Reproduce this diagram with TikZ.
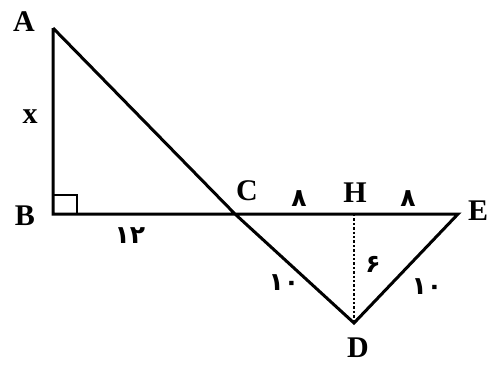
\documentclass[tikz,border=0pt]{standalone}
\usepackage{fontspec}
\setmainfont{Liberation Serif}
\newfontfamily\arabicfont[Script=Arabic]{DejaVu Sans Bold}
\begin{document}
\begin{tikzpicture}[x=1pt,y=-1pt,
  seg/.style={line width=3pt, line join=miter},
  lbl/.style={font=\fontsize{30}{30}\selectfont\bfseries, inner sep=0pt},
  num/.style={font=\arabicfont\fontsize{25}{25}\selectfont, inner sep=0pt}]
\useasboundingbox (0,0) rectangle (489,365);
\coordinate (A) at (53,28);
\coordinate (B) at (53,214);
\coordinate (C) at (235,214);
\coordinate (H) at (354,214);
\coordinate (E) at (458,214);
\coordinate (D) at (354,323);
\draw[seg] (A) -- (B) -- (E) -- (D) -- (C) -- (A);
\draw[line width=1.4pt] (53,195) -- (77,195) -- (77,214);
\draw[line width=2.4pt, dotted] (H) -- (D);
\node[lbl] (lA) at (24,22) {A};
\node[lbl] (lx) at (30,117) {x};
\node[lbl] (lB) at (25,216) {B};
\node[lbl] (lC) at (247,191) {C};
\node[lbl] (lH) at (355,193) {H};
\node[lbl, anchor=west] (lE) at (468,211) {E};
\node[lbl] (lD) at (358,348) {D};
\node[num] (n8a) at (299,199) {۸};
\node[num] (n8b) at (408,199) {۸};
\node[num] (n12) at (130,236) {۱۲};
\node[num] (n10a) at (284,283) {۱۰};
\node[num] (n6) at (373,264) {۶};
\node[num] (n10b) at (427,287) {۱۰};
\end{tikzpicture}
\end{document}
